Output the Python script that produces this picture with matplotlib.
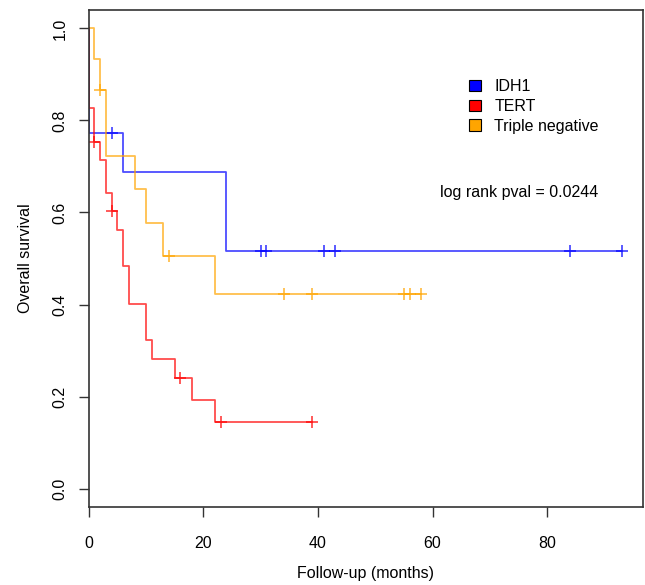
import numpy as np
import matplotlib
matplotlib.use("Agg")
from matplotlib import pyplot as plt
from matplotlib.patches import Patch

plt.rcParams['font.family'] = ['Liberation Sans', 'DejaVu Sans']

# Kaplan-Meier steps (time in months, survival after the step)
idh1_t = [0, 0, 6, 24]
idh1_s = [1.0, 0.773, 0.687, 0.516]
idh1_cens = [4, 30, 31, 41, 43, 84, 93]

tert_t = [0, 0, 1, 2, 3, 4, 5, 6, 7, 10, 11, 15, 18, 22]
tert_s = [1.0, 0.826, 0.753, 0.715, 0.642, 0.603, 0.563, 0.483, 0.402, 0.322,
          0.282, 0.241, 0.193, 0.145]
tert_cens = [1, 4, 16, 23, 39]

trip_t = [0, 1, 2, 3, 8, 10, 13, 22]
trip_s = [1.0, 0.933, 0.867, 0.722, 0.650, 0.578, 0.506, 0.422]
trip_cens = [2, 14, 34, 39, 55, 56, 58]

groups = ["IDH1", "TERT", "Triple negative"]
colors = ["#0000FF", "#FF0000", "#FFA500"]
pval_text = "log rank pval = 0.0244"


def surv_at(t, s, x):
    i = np.searchsorted(t, x, side="right") - 1
    return np.array(s)[i]


fig = plt.figure(figsize=(6.45, 5.85), dpi=100)
ax = fig.add_axes([0.1375, 0.1333, 0.8594, 0.8496])

for t, s, cens, c in [(idh1_t, idh1_s, idh1_cens, colors[0]),
                      (tert_t, tert_s, tert_cens, colors[1]),
                      (trip_t, trip_s, trip_cens, colors[2])]:
    end = max(cens)
    xs = list(t) + [end]
    ys = list(s) + [s[-1]]
    ax.step(xs, ys, where="post", color=c, alpha=0.7, lw=1.3)
    ax.plot(cens, surv_at(t, s, cens), ls="none", marker="+", ms=8, mew=1.3,
            color=c, alpha=0.7)

ax.set_xlim(0, 96.72)
ax.set_ylim(-0.04, 1.04)
ax.set_xticks([0, 20, 40, 60, 80])
ax.set_yticks([0.0, 0.2, 0.4, 0.6, 0.8, 1.0])
ax.set_yticklabels(["0.0", "0.2", "0.4", "0.6", "0.8", "1.0"])
ax.tick_params(axis="both", length=7, width=1, labelsize=11.5, color="#333333")
ax.tick_params(axis="x", pad=14)
ax.tick_params(axis="y", pad=8)
plt.setp(ax.get_yticklabels(), rotation=90, va="center")
for sp in ax.spines.values():
    sp.set_color("#333333")
    sp.set_linewidth(1.2)

ax.set_xlabel("Follow-up (months)", fontsize=11.5, labelpad=11)
ax.set_ylabel("Overall survival", fontsize=11.5, labelpad=14)

ax.text(61.3, 0.643, pval_text, fontsize=11.5, va="center", ha="left")

handles = [Patch(facecolor=c, edgecolor="black", lw=0.8) for c in colors]
ax.legend(handles, groups, loc="upper left", bbox_to_anchor=(0.661, 0.89),
          frameon=False, fontsize=11.5, handlelength=0.7, handleheight=0.7,
          handletextpad=0.85, labelspacing=0.3)

fig.savefig("out.png", dpi=100)
